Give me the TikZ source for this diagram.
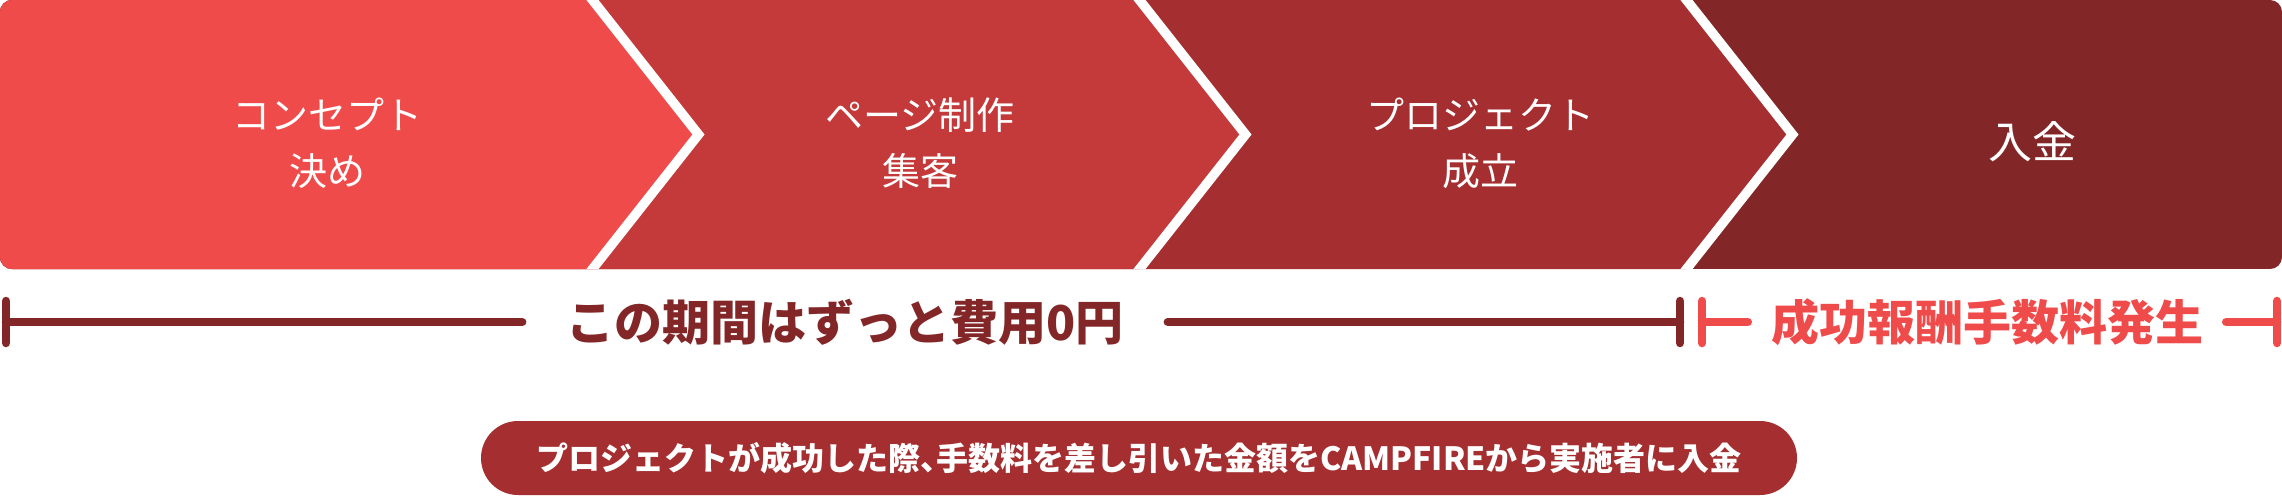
\documentclass[tikz,border=0pt]{standalone}
\usepackage{fontspec}
\setmainfont{Noto Sans CJK JP}
\usetikzlibrary{positioning}
\definecolor{stepA}{HTML}{F04B4B}
\definecolor{stepB}{HTML}{C43A3A}
\definecolor{stepC}{HTML}{A42E30}
\definecolor{stepD}{HTML}{832628}

\begin{document}
\begin{tikzpicture}[x=1pt,y=-1pt,line join=miter,
  steptext/.style={text=white,align=center,inner sep=0pt,font=\fontsize{38}{56}\selectfont},
  spanline/.style={line width=8.5pt,line cap=round},
  spantext/.style={inner ysep=0pt,font=\bfseries\fontsize{48}{48}\selectfont}]
\useasboundingbox (0,0) rectangle (2282,496);
% chevron band
\begin{scope}
\clip[rounded corners=12pt] (0,0) rectangle (2282,269);
\fill[stepD] (0,0) rectangle (2282,269);
\foreach \x/\c in {1686.5/stepC,1139.5/stepB,592.5/stepA}
  \fill[\c] (0,0) -- (\x,0) -- ({\x+106},134.5) -- (\x,269) -- (0,269) -- cycle;
\foreach \x in {592.5,1139.5,1686.5}
  \draw[white,line width=9.5pt] ({\x-10.6},-13.45) -- ({\x+106},134.5) -- ({\x-10.6},282.45);
\end{scope}
\node[steptext] (concept) at (327,143) {コンセプト\\決め};
\node[steptext] (page) at (920,143) {ページ制作\\集客};
\node[steptext] (success) at (1480,143) {プロジェクト\\成立};
\node[steptext,font=\fontsize{44}{44}\selectfont] (payout) at (2032,142) {入金};
% spans
\coordinate (freeL) at (6,322);
\coordinate (freeR) at (1680,322);
\coordinate (feeL) at (1702,322);
\coordinate (feeR) at (2277,322);
\node[spantext,text=stepD,inner xsep=44pt] (free) at (845,322) {この期間はずっと費用0円};
\node[spantext,text=stepA,inner xsep=23pt] (fee) at (1987,322) {成功報酬手数料発生};
\draw[spanline,stepD] (freeL) -- (free.west) (free.east) -- (freeR);
\draw[spanline,stepA] (feeL) -- (fee.west) (fee.east) -- (feeR);
\foreach \p/\c in {freeL/stepD,freeR/stepD,feeL/stepA,feeR/stepA}
  \draw[spanline,\c] ([yshift=21pt]\p) -- ([yshift=-21pt]\p);
% note
\node[fill=stepC,rounded corners=37pt,minimum width=1316pt,minimum height=74pt,inner sep=0pt,
  text=white,font=\bfseries\fontsize{32}{32}\selectfont] (note) at (1139,458)
  {プロジェクトが成功した際、\kern-0.5em 手数料を差し引いた金額をCAMPFIREから実施者に入金};
\end{tikzpicture}
\end{document}
